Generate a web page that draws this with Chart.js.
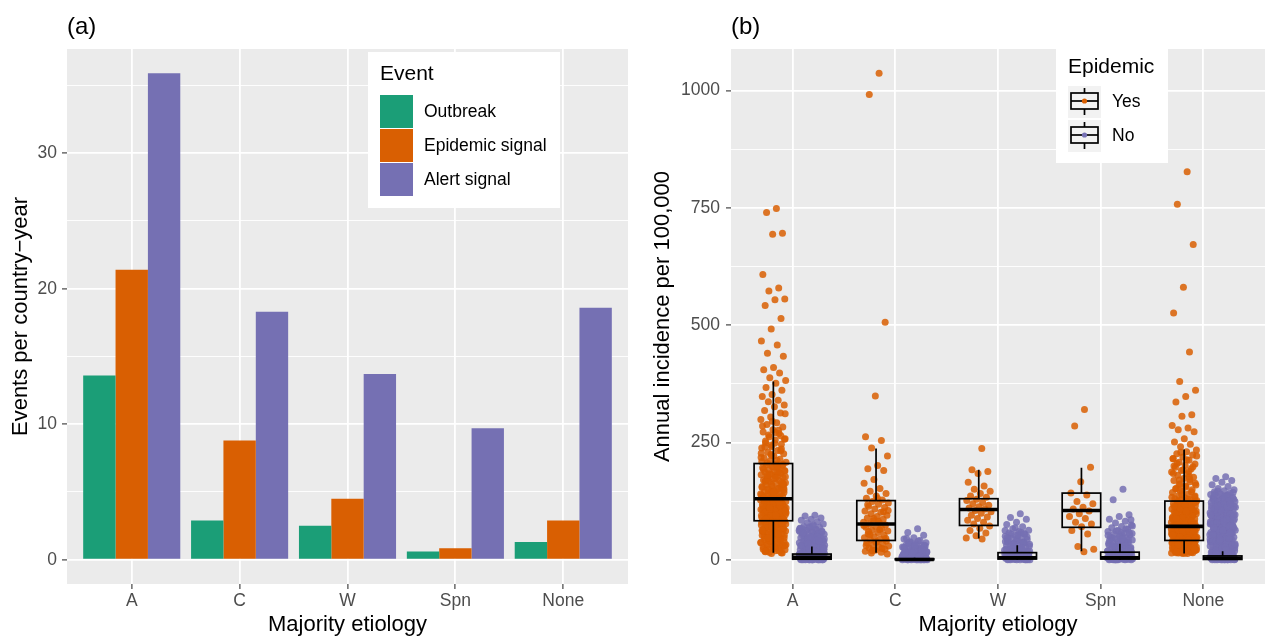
<!DOCTYPE html>
<html>
<head>
<meta charset="utf-8">
<script src="https://cdn.jsdelivr.net/npm/chart.js@4.4.0/dist/chart.umd.min.js"></script>
<style>
  html, body { margin: 0; padding: 0; background: #ffffff; }
  #wrap { position: relative; width: 1269px; height: 637px; }
  #chartA { position: absolute; left: 0; top: 0; }
  #chartB { position: absolute; left: 640px; top: 0; }
</style>
</head>
<body>
<div id="wrap">
  <canvas id="chartA" width="640" height="637"></canvas>
  <canvas id="chartB" width="629" height="637"></canvas>
</div>
<script>
// ---- data ----
const etiologies = ['A', 'C', 'W', 'Spn', 'None'];
const eventNames = ['Outbreak', 'Epidemic signal', 'Alert signal'];
const epidemicNames = ['Yes', 'No'];

// (a) events per country-year
const outbreak       = [13.6, 2.9, 2.5, 0.6, 1.3];
const epidemicSignal = [21.4, 8.8, 4.5, 0.85, 2.9];
const alertSignal    = [35.9, 18.3, 13.7, 9.7, 18.6];

const ticksA = [0, 10, 20, 30];
const minorA = [5, 15, 25, 35];
const ticksB = [0, 250, 500, 750, 1000];
const minorB = [125, 375, 625, 875];

// (b) box statistics (annual incidence per 100,000)
const yesLow = [15, 15, 45, 18, 13];
const yesQ1  = [83, 41, 73, 69, 41];
const yesMed = [130, 76, 107, 105, 71];
const yesQ3  = [205, 126, 130, 142, 125];
const yesHigh = [380, 237, 192, 196, 235];
const noLow  = [0, 0, 0, 0, 0];
const noQ1   = [1, 0, 1.5, 1.5, 0.5];
const noMed  = [5, 0.5, 4, 4, 3];
const noQ3   = [12, 2, 15, 16, 8];
const noHigh = [28, 4, 31, 34, 18];

// (b) individual country-years, epidemic = Yes
const aYes = [749, 740, 696, 694, 608, 579, 573, 556, 554, 542, 514, 492, 466, 458, 440, 434, 410, 405, 398, 388, 382,
  376, 367, 361, 352, 348, 340, 337, 330, 326, 318, 313, 304, 299, 292, 288, 283, 277, 272, 269, 262, 258, 255, 249, 246, 241, 238, 233, 229, 226, 221, 217, 214, 211, 208,
  204, 202, 201, 198, 196, 195, 192, 190, 188, 187, 184, 182, 181, 178, 176, 175, 172, 170, 169, 166, 164, 163, 160, 158, 157, 154, 152, 151, 149, 147, 145, 144, 142, 140, 139, 137, 136, 134, 133, 131, 130, 189, 179, 167, 155, 146, 138, 199, 173, 161,
  129, 128, 126, 125, 124, 122, 121, 120, 118, 117, 116, 114, 113, 112, 111, 109, 108, 107, 105, 104, 103, 101, 100, 99, 98, 96, 95, 94, 92, 91, 90, 89, 87, 86, 85, 84, 127, 119, 110, 102, 93, 88, 123, 106, 97, 115,
  82, 81, 79, 78, 76, 74, 73, 71, 69, 68, 66, 64, 62, 61, 59, 57, 55, 53, 52, 50, 48, 46, 44, 42, 40, 38, 36, 35, 33, 31, 29, 27, 25, 23, 21, 19, 17, 15, 13, 80, 75, 70, 65, 58, 51, 45, 39, 32, 26, 20, 14,
  295, 285, 276, 266, 257, 248, 240, 232, 225, 218, 212, 206, 203, 197, 193, 186, 183, 177, 174, 168, 165, 159, 156, 150, 148, 143, 141, 135, 132, 129, 127, 124, 121, 119, 117, 114, 112, 109, 106, 104, 101, 99, 97, 94, 92, 89, 87, 85, 83, 81, 78, 76, 73, 70, 67, 64, 61, 58, 55, 52, 49, 46, 43, 40, 37, 34, 31, 28, 25, 22, 19, 16,
  311, 271, 253, 236, 222, 209, 188, 171, 154, 139, 126, 116, 108, 100, 91, 83, 77, 69, 60, 50, 41, 30, 24, 18,
  264, 244, 227, 200, 180, 162, 145, 131, 122, 111, 103, 95, 86, 79, 72, 63, 54, 47, 38, 29];
const cYes = [1037, 992, 506, 349, 262, 254, 238, 221, 201, 194, 190, 171, 163, 152, 146, 141, 136, 131, 127, 124, 121, 118, 114, 111, 108, 104, 101, 98, 95, 92, 89, 86, 83, 80, 78, 76, 74, 71, 69, 66, 63, 61, 58, 55, 52, 49, 47, 44, 42, 40, 38, 36, 34, 31, 29, 27, 25, 22, 20, 18, 16, 14, 12,
  131, 117, 102, 88, 73, 64, 53, 45, 37, 30, 24, 19, 105, 82, 60];
const wYes = [237, 192, 188, 184, 165, 157, 150, 146, 141, 136, 133, 129, 126, 122, 119, 116, 113, 110, 108, 105, 102, 99, 95, 91, 88, 84, 80, 76, 72, 67, 62, 57, 51, 46, 44];
const spnYes = [320, 285, 197, 166, 142, 138, 124, 119, 112, 108, 104, 98, 92, 88, 80, 76, 70, 62, 55, 28, 22, 17];
const noneYes = [827, 758, 672, 581, 526, 443, 380, 361, 348, 336, 309, 306, 286, 281, 277, 273, 258, 251, 246, 241,
  234, 230, 226, 223, 219, 215, 212, 208, 204, 201, 197, 194, 190, 187, 183, 180, 176, 173, 169, 166, 162, 159, 155, 152, 149, 146, 143, 140, 137, 134, 132, 130, 128, 127, 126,
  124, 123, 122, 120, 119, 118, 116, 115, 114, 112, 111, 110, 108, 107, 106, 104, 103, 102, 100, 99, 98, 96, 95, 94, 92, 91, 90, 88, 87, 86, 84, 83, 82, 80, 79, 78, 77, 76, 75, 74, 73, 72, 121, 113, 105, 97, 89, 81, 117, 101, 85,
  70, 69, 68, 67, 66, 65, 64, 63, 62, 61, 60, 59, 58, 57, 56, 55, 54, 53, 52, 51, 50, 49, 48, 47, 46, 45, 44, 43, 42, 41, 69, 66, 63, 60, 57, 54, 51, 48, 45, 42, 68, 62, 56, 50, 44,
  40, 39, 38, 37, 36, 35, 34, 33, 32, 31, 30, 29, 28, 27, 26, 25, 24, 23, 22, 21, 20, 19, 18, 17, 16, 15, 14, 13, 39, 36, 33, 30, 27, 24, 21, 18, 15, 38, 32, 26, 20, 14, 35, 29, 23, 17,
  229, 221, 213, 205, 198, 191, 184, 177, 170, 163, 157, 151, 145, 139, 133, 129, 125, 121, 118, 114, 111, 107, 104, 100, 97, 93, 90, 87, 84, 81, 78, 75, 72, 70, 67, 65, 62, 60, 58, 55, 53, 51, 49, 47, 45, 43, 41, 39, 37, 35, 33, 31, 29, 27, 25, 23, 21, 19, 17, 15, 13,
  216, 188, 160, 136, 116, 98, 82, 69, 57, 46, 36, 26, 18, 200, 171, 148, 123, 103, 88, 74, 63, 52, 42, 32, 22, 14];

// (b) individual country-years, epidemic = No
const aNo = [95, 93, 89, 86, 84, 81, 79, 76, 74, 71, 69, 68, 66, 64, 63, 61, 60, 58, 57, 55, 54, 52, 51, 49, 48, 47, 45, 44, 42, 41, 40, 38, 37, 36, 34, 33, 32, 31, 29, 28, 27, 26, 25, 24, 23, 22, 21, 20, 19, 18, 17, 16, 15, 14, 13, 12, 11, 10, 9, 9, 8, 8, 7, 7, 6, 6, 5, 5, 5, 4, 4, 4, 3, 3, 3, 2, 2, 2, 2, 1, 1, 1, 1, 0, 0, 0, 0, 0, 62, 53, 46, 39, 35, 30, 27, 22, 18, 14, 11, 8,
  70, 67, 65, 62, 59, 56, 53, 50, 47, 44, 41, 38, 35, 32, 29, 26, 23, 20, 17, 14, 11, 9, 7, 5, 3, 1, 0, 58, 51, 45, 39, 33, 27, 21, 16, 12, 8, 5, 2, 0,
  66, 55, 43, 31, 19, 10, 4, 1, 0, 49, 37, 25, 13, 6, 2, 0, 60, 42, 28, 15, 7, 3, 0, 34, 22, 9, 1, 0, 48, 30, 16, 4, 0, 72, 57, 40, 24, 12, 3, 0];
const cNo = [66, 58, 52, 47, 44, 41, 38, 36, 34, 32, 30, 28, 27, 25, 24, 23, 21, 20, 19, 18, 17, 16, 15, 14, 13, 12, 11, 10, 9, 8, 8, 7, 7, 6, 6, 5, 5, 4, 4, 4, 3, 3, 3, 2, 2, 2, 2, 1, 1, 1, 1, 1, 0, 0, 0, 0, 0, 0, 33, 26, 22, 17, 12, 9, 6, 3, 1, 0,
  40, 35, 31, 28, 25, 22, 19, 16, 13, 10, 7, 4, 2, 0, 37, 29, 23, 17, 11, 6, 3, 1, 0, 26, 18, 12, 8, 4, 1, 0, 45, 21, 14, 9, 5, 2, 0, 30, 15, 0];
const wNo = [98, 90, 86, 80, 75, 70, 66, 63, 60, 57, 55, 52, 50, 48, 45, 43, 41, 39, 37, 35, 33, 31, 29, 27, 25, 23, 21, 19, 18, 16, 15, 14, 13, 12, 11, 10, 9, 8, 7, 7, 6, 6, 5, 5, 4, 4, 3, 3, 2, 2, 2, 1, 1, 1, 0, 0, 0, 0, 40, 30, 22, 17, 12, 8, 5, 3, 1,
  62, 58, 54, 49, 45, 41, 37, 33, 29, 25, 21, 17, 13, 9, 5, 2, 0, 53, 44, 36, 28, 20, 12, 6, 1, 0, 47, 35, 24, 14, 7, 2, 0, 68, 39, 26, 16, 8, 3, 0, 56, 32, 18, 10, 4];
const spnNo = [150, 128, 96, 92, 86, 82, 78, 74, 71, 68, 65, 62, 60, 57, 55, 53, 50, 48, 46, 44, 42, 40, 38, 36, 34, 32, 30, 28, 26, 24, 23, 21, 20, 18, 17, 15, 14, 13, 12, 11, 10, 9, 8, 7, 7, 6, 6, 5, 5, 4, 4, 3, 3, 2, 2, 2, 1, 1, 1, 0, 0, 0, 0, 58, 45, 35, 27, 19, 13, 9, 5, 3, 1,
  66, 61, 56, 51, 47, 43, 39, 35, 31, 27, 24, 20, 16, 12, 8, 4, 1, 0, 58, 49, 41, 33, 25, 17, 10, 5, 2, 0, 52, 38, 29, 19, 11, 6, 1, 0, 72, 44, 30, 22, 14, 7, 3, 0, 85];
const noneNo = [177, 173, 169, 165, 160, 156, 152, 149, 147, 145, 142, 140, 139, 137, 135, 133, 131, 129, 127, 125, 124, 122, 120, 118, 116, 115, 113, 111, 109, 107, 106, 104, 102, 100, 98, 97, 95, 93, 91, 90, 88, 86, 84, 82, 81, 79, 77, 75, 73, 72, 70, 68, 66, 64, 63, 61, 59, 57, 55, 54, 52, 50, 48, 46, 45, 43, 41, 39, 37, 36, 34, 32, 30, 28, 27, 25, 23, 21, 19, 18, 16, 14, 12, 10, 9, 8, 7, 6, 5, 4, 3, 2, 1, 0,
  138, 126, 114, 103, 92, 80, 69, 58, 47, 35, 24, 13,
  132, 119, 108, 96, 85, 74, 62, 51, 40, 29, 17, 6,
  121, 110, 99, 87, 76, 65, 53, 42, 31, 20, 11, 4, 2, 1, 0, 0, 3, 5, 1, 0,
  143, 136, 130, 123, 117, 112, 105, 101, 94, 89, 83, 78, 71, 67, 60, 56, 49, 44, 38, 33, 26, 22, 15, 11, 6, 3, 1, 0,
  141, 128, 118, 109, 99, 92, 83, 76, 66, 60, 51, 44, 36, 30, 22, 16, 9, 4, 1, 0,
  134, 125, 113, 104, 95, 86, 79, 70, 62, 54, 47, 38, 31, 24, 18, 11, 7, 3, 0,
  146, 129, 117, 106, 97, 89, 81, 71, 64, 56, 48, 40, 33, 26, 19, 12, 8, 2, 0,
  122, 111, 101, 93, 84, 77, 68, 61, 53, 45, 39, 31, 25, 17, 10, 5, 1, 0,
  137, 119, 107, 96, 87, 78, 72, 63, 55, 46, 41, 34, 27, 20, 14, 8, 2, 0,
  115, 98, 82, 68, 57, 43, 29, 21, 13, 6, 0];

const yesPoints = [aYes, cYes, wYes, spnYes, noneYes];
const noPoints = [aNo, cNo, wNo, spnNo, noneNo];

// ---- style ----
const FONT = "'Liberation Sans', Arial, Helvetica, sans-serif";
const GREEN = '#1B9E77', ORANGE = '#D95F02', PURPLE = '#7570B3';
const PANEL = '#EBEBEB';
const DODGE = 0.1875;

Chart.defaults.font.family = FONT;

// deterministic spread of points inside a dodge slot
function jitter(j) {
  return (((j + 1) * 0.618034) % 1 - 0.5) * 0.25;
}

function pointsFor(groups, side) {
  const out = [];
  groups.forEach((vals, i) => {
    vals.forEach((v, j) => out.push({ x: i + 1 + side * DODGE + jitter(j), y: v }));
  });
  return out;
}

const panelBg = {
  id: 'panelBg',
  beforeDraw(chart) {
    const { ctx, chartArea: a } = chart;
    ctx.save();
    ctx.fillStyle = PANEL;
    ctx.fillRect(a.left, a.top, a.right - a.left, a.bottom - a.top);
    ctx.restore();
  }
};

function panelTitle(text) {
  return {
    id: 'panelTitle',
    afterDraw(chart) {
      const ctx = chart.ctx;
      ctx.save();
      ctx.fillStyle = '#000';
      ctx.font = '24px ' + FONT;
      ctx.textBaseline = 'alphabetic';
      ctx.fillText(text, chart.chartArea.left, 34);
      ctx.restore();
    }
  };
}

function xScale() {
  return {
    type: 'linear', min: 0.4, max: 5.6, offset: false,
    afterBuildTicks: s => { s.ticks = etiologies.map((_, i) => ({ value: i + 1 })); },
    afterFit: s => { s.height = 53; },
    ticks: { callback: v => etiologies[v - 1], color: '#4D4D4D', font: { size: 17.5 }, padding: 2, autoSkip: false, maxRotation: 0 },
    grid: { color: '#FFFFFF', lineWidth: 1.8, offset: false, drawTicks: true, tickLength: 5, tickColor: '#333333', tickWidth: 1.1 },
    border: { display: false },
    title: { display: true, text: 'Majority etiology', color: '#000', font: { size: 22, lineHeight: 1.1 }, padding: 0 }
  };
}

function yScale(min, max, major, minor, width, titleText, titlePad, tickPad) {
  const isMajor = v => major.includes(v);
  return {
    min: min, max: max,
    afterBuildTicks: s => { s.ticks = major.concat(minor).sort((a, b) => a - b).map(v => ({ value: v })); },
    afterFit: s => { s.width = width; },
    ticks: { callback: v => isMajor(v) ? String(v) : '', color: '#4D4D4D', font: { size: 17.5 }, padding: tickPad, autoSkip: false },
    grid: {
      color: '#FFFFFF',
      lineWidth: c => (c.tick && isMajor(c.tick.value)) ? 1.8 : 0.9,
      tickLength: 5,
      tickWidth: 1.1,
      tickColor: c => (c.tick && isMajor(c.tick.value)) ? '#333333' : 'rgba(0,0,0,0)'
    },
    border: { display: false },
    title: { display: true, text: titleText, color: '#000', font: { size: 22 }, padding: { top: titlePad, bottom: 0 } }
  };
}

// ---- (a) legend ----
const legendA = {
  id: 'legendA',
  afterDraw(chart) {
    const ctx = chart.ctx;
    const fills = [GREEN, ORANGE, PURPLE];
    ctx.save();
    ctx.fillStyle = '#FFFFFF';
    ctx.fillRect(368, 52, 192, 156);
    ctx.fillStyle = '#000';
    ctx.font = '21px ' + FONT;
    ctx.textBaseline = 'alphabetic';
    ctx.fillText('Event', 380, 80);
    ctx.font = '17.5px ' + FONT;
    ctx.textBaseline = 'middle';
    eventNames.forEach((name, i) => {
      const top = 95 + i * 34;
      ctx.fillStyle = fills[i];
      ctx.fillRect(380, top, 33, 33);
      ctx.fillStyle = '#000';
      ctx.fillText(name, 424, top + 17);
    });
    ctx.restore();
  }
};

new Chart(document.getElementById('chartA'), {
  type: 'bar',
  data: {
    datasets: [
      { label: eventNames[0], data: outbreak.map((v, i) => ({ x: i + 1, y: v })), backgroundColor: GREEN },
      { label: eventNames[1], data: epidemicSignal.map((v, i) => ({ x: i + 1, y: v })), backgroundColor: ORANGE },
      { label: eventNames[2], data: alertSignal.map((v, i) => ({ x: i + 1, y: v })), backgroundColor: PURPLE }
    ].map(d => Object.assign(d, { categoryPercentage: 0.9, barPercentage: 1.0, borderWidth: 0 }))
  },
  options: {
    responsive: false, animation: false, devicePixelRatio: 1, events: [],
    layout: { padding: { top: 49, right: 12, left: 0, bottom: 0 } },
    plugins: { legend: { display: false }, tooltip: { enabled: false } },
    scales: {
      x: xScale(),
      y: yScale(-1.795, 37.695, ticksA, minorA, 67, 'Events per country\u2212year', 8, 5)
    }
  },
  plugins: [panelBg, panelTitle('(a)'), legendA]
});

// ---- (b) boxes ----
function drawBox(ctx, xs, ys, c, lo, q1, md, q3, hi) {
  const xl = xs.getPixelForValue(c - DODGE), xr = xs.getPixelForValue(c + DODGE), xc = xs.getPixelForValue(c);
  ctx.lineWidth = 1.7;
  ctx.beginPath();
  ctx.moveTo(xc, ys.getPixelForValue(hi)); ctx.lineTo(xc, ys.getPixelForValue(q3));
  ctx.moveTo(xc, ys.getPixelForValue(q1)); ctx.lineTo(xc, ys.getPixelForValue(lo));
  ctx.stroke();
  ctx.strokeRect(xl, ys.getPixelForValue(q3), xr - xl, ys.getPixelForValue(q1) - ys.getPixelForValue(q3));
  ctx.lineWidth = 3.6;
  ctx.beginPath();
  ctx.moveTo(xl, ys.getPixelForValue(md)); ctx.lineTo(xr, ys.getPixelForValue(md));
  ctx.stroke();
}

const boxPlugin = {
  id: 'boxes',
  afterDatasetsDraw(chart) {
    const { ctx, scales: { x, y } } = chart;
    ctx.save();
    ctx.strokeStyle = '#000';
    etiologies.forEach((_, i) => {
      drawBox(ctx, x, y, i + 1 - DODGE, yesLow[i], yesQ1[i], yesMed[i], yesQ3[i], yesHigh[i]);
      drawBox(ctx, x, y, i + 1 + DODGE, noLow[i], noQ1[i], noMed[i], noQ3[i], noHigh[i]);
    });
    ctx.restore();
  }
};

const legendB = {
  id: 'legendB',
  afterDraw(chart) {
    const ctx = chart.ctx;
    const dots = [ORANGE, PURPLE];
    ctx.save();
    ctx.fillStyle = '#FFFFFF';
    ctx.fillRect(416, 45, 112, 118);
    ctx.fillStyle = '#000';
    ctx.font = '21px ' + FONT;
    ctx.textBaseline = 'alphabetic';
    ctx.fillText('Epidemic', 428, 73);
    epidemicNames.forEach((name, i) => {
      const top = 86 + i * 34;
      ctx.fillStyle = '#F2F2F2';
      ctx.fillRect(428, top, 33, 32);
      ctx.strokeStyle = '#000';
      ctx.lineWidth = 1.7;
      ctx.beginPath();
      ctx.moveTo(444.5, top + 2); ctx.lineTo(444.5, top + 7);
      ctx.moveTo(444.5, top + 23); ctx.lineTo(444.5, top + 29);
      ctx.stroke();
      ctx.strokeRect(431, top + 7, 27, 16);
      ctx.beginPath();
      ctx.moveTo(431, top + 15); ctx.lineTo(458, top + 15);
      ctx.stroke();
      ctx.fillStyle = dots[i];
      ctx.beginPath();
      ctx.arc(444.5, top + 15, 2.6, 0, Math.PI * 2);
      ctx.fill();
      ctx.fillStyle = '#000';
      ctx.font = '17.5px ' + FONT;
      ctx.textBaseline = 'middle';
      ctx.fillText(name, 472, top + 16);
    });
    ctx.restore();
  }
};

new Chart(document.getElementById('chartB'), {
  type: 'scatter',
  data: {
    datasets: [
      { label: 'Yes', data: pointsFor(yesPoints, -1), backgroundColor: 'rgba(217,95,2,0.85)', pointRadius: 3.5, borderWidth: 0 },
      { label: 'No', data: pointsFor(noPoints, 1), backgroundColor: 'rgba(117,112,179,0.85)', pointRadius: 3.5, borderWidth: 0 }
    ]
  },
  options: {
    responsive: false, animation: false, devicePixelRatio: 1, events: [],
    layout: { padding: { top: 49, right: 1, left: 0, bottom: 0 } },
    plugins: { legend: { display: false }, tooltip: { enabled: false } },
    scales: {
      x: xScale(),
      y: yScale(-51.85, 1088.85, ticksB, minorB, 91, 'Annual incidence per 100,000', 10, 6)
    }
  },
  plugins: [panelBg, boxPlugin, panelTitle('(b)'), legendB]
});
</script>
</body>
</html>
